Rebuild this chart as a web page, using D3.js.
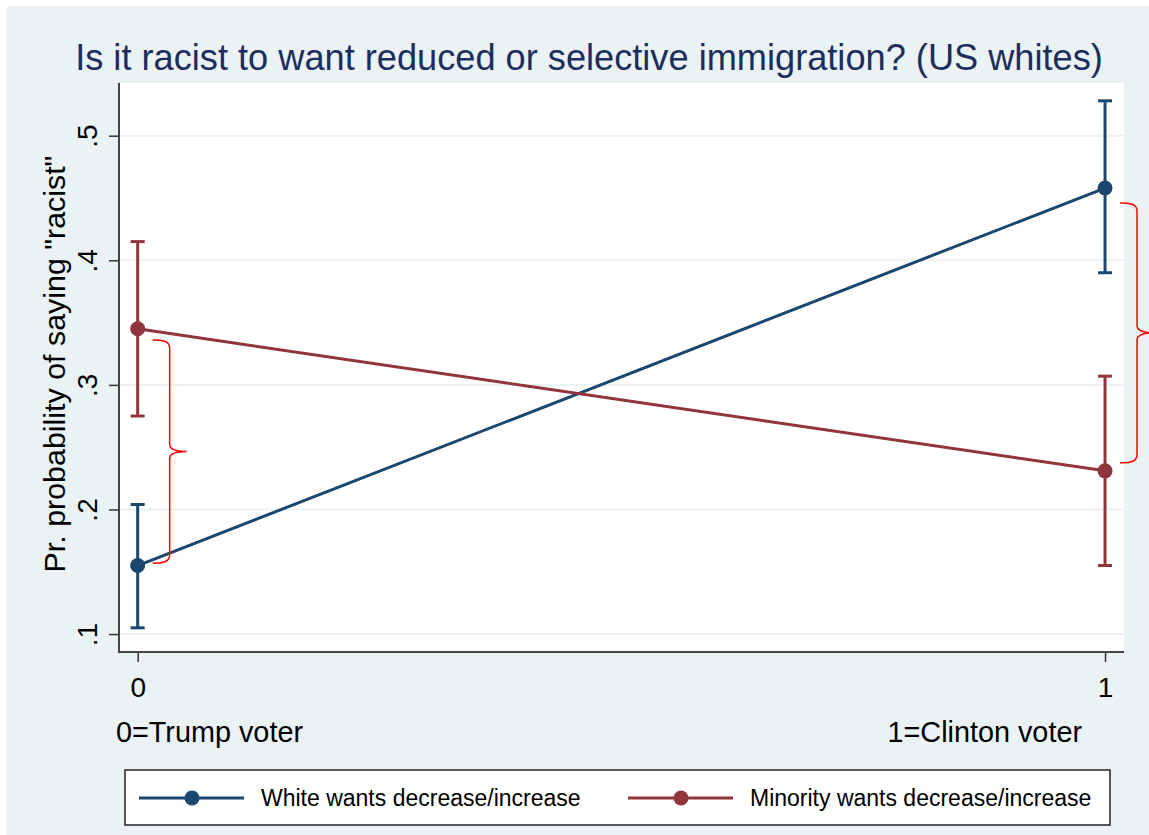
<!DOCTYPE html>
<html><head><meta charset="utf-8">
<script src="https://cdn.jsdelivr.net/npm/d3@7"></script>
<style>html,body{margin:0;padding:0;background:#fff;}svg{display:block;}</style>
</head><body>
<script>
// ---- data ----
const titleText = "Is it racist to want reduced or selective immigration? (US whites)";
const yTitle = 'Pr. probability of saying "racist"';
const xTickValues = [0, 1];
const xTickLabels = ["0", "1"];
const xNoteLabels = ["0=Trump voter", "1=Clinton voter"];
const yTickValues = [0.1, 0.2, 0.3, 0.4, 0.5];
const yTickLabels = [".1", ".2", ".3", ".4", ".5"];
const seriesNames = ["White wants decrease/increase", "Minority wants decrease/increase"];
const whiteX = [0, 1];
const whiteMean = [0.155, 0.458];
const whiteLo = [0.105, 0.390];
const whiteHi = [0.204, 0.528];
const minorityX = [0, 1];
const minorityMean = [0.345, 0.231];
const minorityLo = [0.275, 0.155];
const minorityHi = [0.415, 0.307];
const braceX = [0, 1];
const braceLo = [0.157, 0.2375];
const braceHi = [0.336, 0.446];

(function () {
const W = 1149, H = 835;
const svg = d3.select("body").append("svg").attr("width", W).attr("height", H);
const font = "'Liberation Sans', Arial, sans-serif";

svg.append("rect").attr("x", 7).attr("y", 6).attr("width", W - 7).attr("height", H - 6).attr("fill", "#eaf2f3");

const pL = 119, pR = 1124, pT = 83, pB = 652;
const x = d3.scaleLinear().domain([-0.0193, 1.0196]).range([pL, pR]);
const y = d3.scaleLinear().domain([0.0856, 0.5423]).range([pB, pT]);

svg.append("rect").attr("x", pL).attr("y", pT).attr("width", pR - pL).attr("height", pB - pT).attr("fill", "#fff");

// grid
svg.append("g").selectAll("line").data(yTickValues).join("line")
  .attr("x1", pL).attr("x2", pR).attr("y1", d => y(d)).attr("y2", d => y(d))
  .attr("stroke", "#eaf2f3").attr("stroke-width", 2);

// axes
const yAxis = d3.axisLeft(y).tickValues(yTickValues).tickFormat((d, i) => yTickLabels[i]).tickSize(10).tickPadding(0);
const gy = svg.append("g").attr("transform", `translate(${pL},0)`).call(yAxis);
gy.select(".domain").remove();
gy.selectAll(".tick line").attr("stroke", "#333").attr("stroke-width", 1.5);
gy.selectAll(".tick text").attr("font-family", font).attr("font-size", 28).attr("fill", "#000")
  .attr("text-anchor", "middle").attr("transform", "rotate(-90)").attr("x", 0).attr("y", -22).attr("dy", 0);

const xAxis = d3.axisBottom(x).tickValues(xTickValues).tickFormat((d, i) => xTickLabels[i]).tickSize(10).tickPadding(0);
const gx = svg.append("g").attr("transform", `translate(0,${pB})`).call(xAxis);
gx.select(".domain").remove();
gx.selectAll(".tick line").attr("stroke", "#333").attr("stroke-width", 1.5);
gx.selectAll(".tick text").attr("font-family", font).attr("font-size", 28).attr("fill", "#000").attr("y", 45).attr("dy", 0);

svg.append("line").attr("x1", pL).attr("x2", pL).attr("y1", pT).attr("y2", pB + 1).attr("stroke", "#444").attr("stroke-width", 2);
svg.append("line").attr("x1", pL).attr("x2", pR).attr("y1", pB).attr("y2", pB).attr("stroke", "#444").attr("stroke-width", 2);

// titles
svg.append("text").attr("x", 589).attr("y", 70).attr("text-anchor", "middle").attr("font-family", font)
  .attr("font-size", 36.2).attr("fill", "#1c2d5e").text(titleText);
svg.append("text").attr("transform", `translate(65,364) rotate(-90)`).attr("text-anchor", "middle")
  .attr("font-family", font).attr("font-size", 30.4).attr("fill", "#000").text(yTitle);
svg.append("text").attr("x", 116).attr("y", 742).attr("font-family", font).attr("font-size", 28.8).attr("fill", "#000").text(xNoteLabels[0]);
svg.append("text").attr("x", 1082).attr("y", 742).attr("text-anchor", "end").attr("font-family", font).attr("font-size", 28.8).attr("fill", "#000").text(xNoteLabels[1]);

// series
const series = [
  {name: seriesNames[0], color: "#1a476f", xs: whiteX, m: whiteMean, lo: whiteLo, hi: whiteHi},
  {name: seriesNames[1], color: "#90353b", xs: minorityX, m: minorityMean, lo: minorityLo, hi: minorityHi}
];
const line = d3.line().x(d => x(d[0])).y(d => y(d[1]));
series.forEach(s => {
  const g = svg.append("g");
  const pts = s.xs.map((xv, i) => [xv, s.m[i]]);
  g.append("path").attr("d", line(pts)).attr("fill", "none").attr("stroke", s.color).attr("stroke-width", 3);
  s.xs.forEach((xv, i) => {
    g.append("line").attr("x1", x(xv)).attr("x2", x(xv)).attr("y1", y(s.lo[i])).attr("y2", y(s.hi[i])).attr("stroke", s.color).attr("stroke-width", 3);
    [s.lo[i], s.hi[i]].forEach(v => g.append("line").attr("x1", x(xv) - 7).attr("x2", x(xv) + 7).attr("y1", y(v)).attr("y2", y(v)).attr("stroke", s.color).attr("stroke-width", 3));
  });
  g.selectAll("circle").data(pts).join("circle").attr("cx", d => x(d[0])).attr("cy", d => y(d[1])).attr("r", 7.5).attr("fill", s.color);
});

// braces
braceX.forEach((bx, i) => {
  const x0 = x(bx) + 15, xv = x(bx) + 32, xt = x(bx) + 49;
  const yt = y(braceHi[i]), yb = y(braceLo[i]), ym = (yt + yb) / 2;
  const p = d3.path();
  p.moveTo(x0, yt);
  p.quadraticCurveTo(xv, yt - 1, xv, yt + 8);
  p.lineTo(xv, ym - 7);
  p.quadraticCurveTo(xv, ym, xt, ym);
  p.quadraticCurveTo(xv, ym, xv, ym + 7);
  p.lineTo(xv, yb - 8);
  p.quadraticCurveTo(xv, yb + 1, x0, yb);
  svg.append("path").attr("d", p.toString()).attr("fill", "none").attr("stroke", "#ff0000").attr("stroke-width", 1.5);
});

// legend
svg.append("rect").attr("x", 125).attr("y", 770).attr("width", 985).attr("height", 55).attr("fill", "#fff").attr("stroke", "#222").attr("stroke-width", 1.5);
const legX = [139, 628];
series.forEach((s, i) => {
  const lx = legX[i], ly = 798;
  svg.append("line").attr("x1", lx).attr("x2", lx + 105).attr("y1", ly).attr("y2", ly).attr("stroke", s.color).attr("stroke-width", 3);
  svg.append("circle").attr("cx", lx + 53).attr("cy", ly).attr("r", 7.5).attr("fill", s.color);
  svg.append("text").attr("x", lx + 122).attr("y", ly + 8).attr("font-family", font).attr("font-size", 23).attr("fill", "#000").text(s.name);
});
})();
</script>
</body></html>
